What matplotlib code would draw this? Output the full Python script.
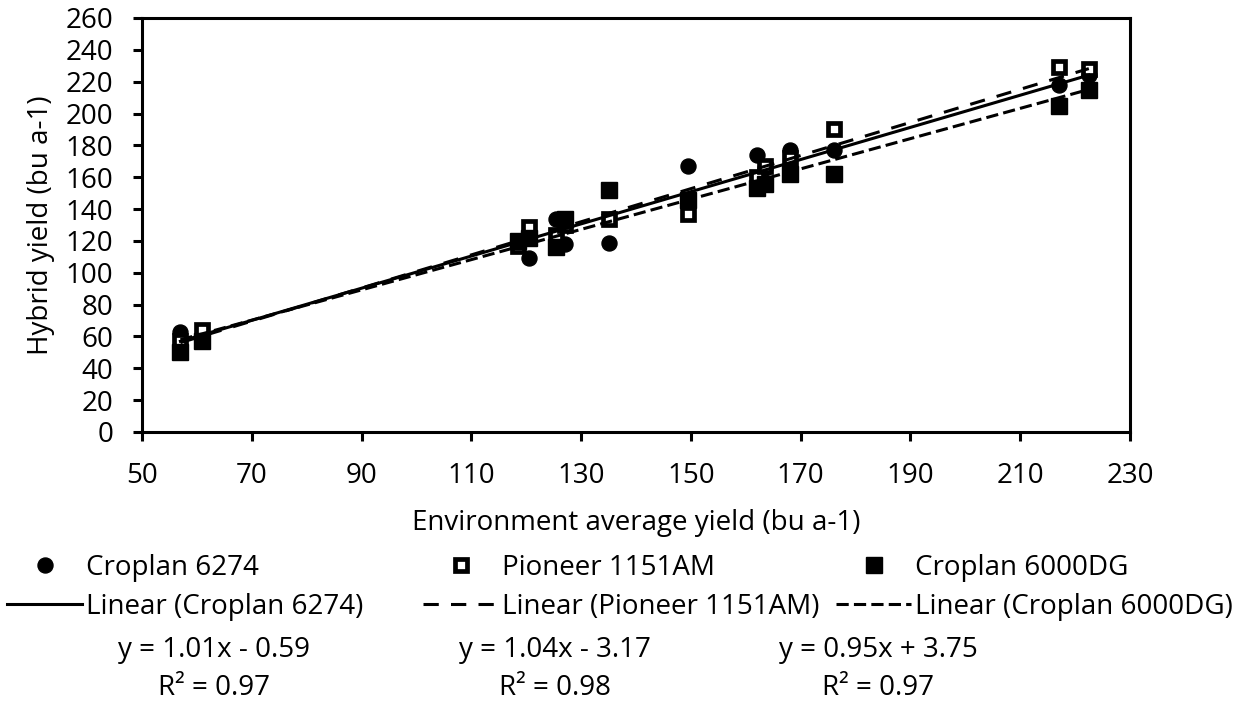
import numpy as np
import matplotlib.pyplot as plt

plt.rcParams['font.family'] = ['Open Sans', 'DejaVu Sans']

# environment average yield (bu a-1)
env = [57, 61, 118.5, 120.5, 125.5, 127, 135, 149.5, 162, 163.5, 168, 176, 217, 222.5]

# hybrid yields per environment
croplan_6274 = [63, 60, 118, 109, 134, 118, 119, 167, 174, 166, 177, 177, 218, 224]
pioneer_1151am = [57, 64, 117, 129, 124, 130, 134, 137, 160, 167, 172, 190, 229, 228]
croplan_6000dg = [50, 57, 120, 122, 116, 134, 152, 146, 153, 156, 162, 162, 205, 215]

hybrids = ['Croplan 6274', 'Pioneer 1151AM', 'Croplan 6000DG']
slopes = [1.01, 1.04, 0.95]
intercepts = [-0.59, -3.17, 3.75]
r2 = [0.97, 0.98, 0.97]

fs = 20
W, H = 1247, 702

fig = plt.figure(figsize=(W / 100, H / 100), dpi=100)
ax = fig.add_axes([142 / W, 1 - 432 / H, (1130 - 142) / W, (432 - 18) / H])

series = [croplan_6274, pioneer_1151am, croplan_6000dg]
marker_kw = [
    dict(marker='o', color='black', markersize=10.8, linestyle='none'),
    dict(marker='s', markerfacecolor='white', markeredgecolor='black', markeredgewidth=3.4,
         markersize=8.2, linestyle='none'),
    dict(marker='s', color='black', markersize=11, linestyle='none'),
]
line_kw = [
    dict(linestyle='-'),
    dict(linestyle=(0, (5, 4))),
    dict(linestyle=(0, (4, 1.7))),
]

x_fit = np.array([min(env), max(env)])
pt_handles = []
ln_handles = []
for name, ys, mk, lk, m, b in zip(hybrids, series, marker_kw, line_kw, slopes, intercepts):
    h, = ax.plot(env, ys, label=name, zorder=3, **mk)
    l, = ax.plot(x_fit, m * x_fit + b, color='black', lw=2.2, label='Linear (%s)' % name,
                 zorder=4, **lk)
    pt_handles.append(h)
    ln_handles.append(l)

ax.set_xlim(50, 230)
ax.set_ylim(0, 260)
ax.set_xticks(np.arange(50, 231, 20))
ax.set_yticks(np.arange(0, 261, 20))
for s in ax.spines.values():
    s.set_linewidth(2.2)
ax.tick_params(direction='out', length=6.5, width=2.2, labelsize=fs)
ax.tick_params(axis='y', pad=14)
ax.tick_params(axis='x', pad=15)

ax.set_xlabel('Environment average yield (bu a-1)', fontsize=fs, labelpad=14)
ax.set_ylabel('Hybrid yield (bu a-1)', fontsize=fs, labelpad=8)

# one legend per column (marker entry above its trendline entry)
col_x = [7, 423, 836]
for cx, h, l in zip(col_x, pt_handles, ln_handles):
    fig.legend(handles=[h, l], labels=[h.get_label(), l.get_label()],
               loc='upper left', bbox_to_anchor=(cx / W, 1 - 554 / H),
               frameon=False, fontsize=fs, handlelength=2.7, handletextpad=0.15,
               borderpad=0, borderaxespad=0, labelspacing=0.4)

eq_x = [214, 555, 878]
for cx, m, b, r in zip(eq_x, slopes, intercepts, r2):
    sign = '-' if b < 0 else '+'
    fig.text(cx / W, 1 - 650 / H, 'y = %.2fx %s %.2f' % (m, sign, abs(b)),
             ha='center', va='center', fontsize=fs)
    fig.text(cx / W, 1 - 688 / H, 'R² = %.2f' % r,
             ha='center', va='center', fontsize=fs)

fig.savefig('out.png', dpi=100)
